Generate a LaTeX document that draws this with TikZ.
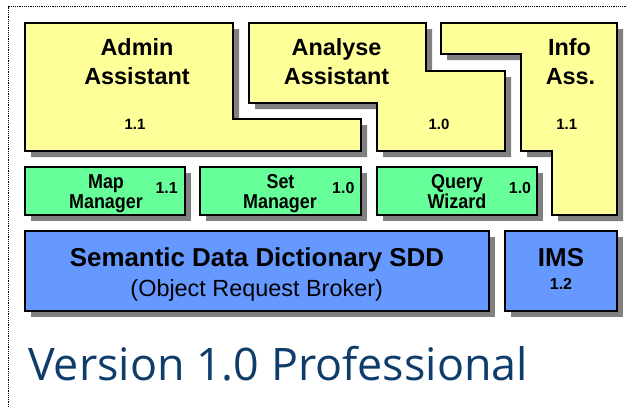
\documentclass[tikz,border=0pt]{standalone}
\usepackage{fontspec}
\usepackage{graphicx}
\setmainfont{Liberation Sans}
\newfontfamily\verfont{Open Sans}
\definecolor{ylw}{HTML}{FFFF99}
\definecolor{grn}{HTML}{66FF99}
\definecolor{blu}{HTML}{6699FF}
\definecolor{shd}{HTML}{808080}
\definecolor{vblue}{HTML}{0F3D6B}
\newcommand{\tallt}[1]{\scalebox{1}[1.12]{#1}}
\tikzset{
  shadowfill/.style={fill=shd, draw=none},
  ybox/.style={fill=ylw, draw=black, line width=1.3bp},
  gbox/.style={fill=grn, draw=black, line width=1.3bp},
  bbox/.style={fill=blu, draw=black, line width=1.3bp},
  big/.style={inner sep=0, anchor=base, font=\fontsize{23.5}{28}\selectfont\bfseries},
  mid/.style={inner sep=0, anchor=base, font=\fontsize{18}{20}\selectfont\bfseries},
  num/.style={inner sep=0, anchor=base, font=\fontsize{15}{18}\selectfont\bfseries},
  gnum/.style={inner sep=0, anchor=base, font=\fontsize{16}{18}\selectfont\bfseries},
  sdd/.style={inner sep=0, anchor=base, font=\fontsize{26}{30}\selectfont\bfseries},
  orb/.style={inner sep=0, anchor=base, font=\fontsize{23.5}{28}\selectfont},
  frame/.style={line width=1.2bp, dash pattern=on 1.2bp off 1bp, black},
}
\begin{document}
\begin{tikzpicture}[x=1bp, y=-1bp]
\useasboundingbox (0,0) rectangle (626,407);
\fill[white] (0,0) rectangle (626,407);
% dotted frame
\draw[frame] (8.5,407) -- (8.5,6.5) -- (626,6.5);
% shadows
\begin{scope}[shift={(6,6)}]
\fill[shadowfill] (25,23) -- (233,23) -- (233,119) -- (361,119) -- (361,151) -- (25,151) -- cycle;
\fill[shadowfill] (249,23) -- (426,23) -- (426,71) -- (505,71) -- (505,151) -- (377,151) -- (377,103) -- (249,103) -- cycle;
\fill[shadowfill] (441,23) -- (617,23) -- (617,215) -- (552,215) -- (552,151) -- (521,151) -- (521,54) -- (441,54) -- cycle;
\fill[shadowfill] (25,167) rectangle (185,215);
\fill[shadowfill] (200,167) rectangle (361,215);
\fill[shadowfill] (377,167) rectangle (537,215);
\fill[shadowfill] (25,231) rectangle (489,311);
\fill[shadowfill] (505,231) rectangle (617,311);
\end{scope}
% yellow shapes
\draw[ybox] (25,23) -- (233,23) -- (233,119) -- (361,119) -- (361,151) -- (25,151) -- cycle;
\draw[ybox] (249,23) -- (426,23) -- (426,71) -- (505,71) -- (505,151) -- (377,151) -- (377,103) -- (249,103) -- cycle;
\draw[ybox] (441,23) -- (617,23) -- (617,215) -- (552,215) -- (552,151) -- (521,151) -- (521,54) -- (441,54) -- cycle;
% green boxes
\draw[gbox] (25,167) rectangle (185,215);
\draw[gbox] (200,167) rectangle (361,215);
\draw[gbox] (377,167) rectangle (537,215);
% blue boxes
\draw[bbox] (25,231) rectangle (489,311);
\draw[bbox] (505,231) rectangle (617,311);
% texts
\node[big] (admin1) at (137,55.7) {Admin};
\node[big] (admin2) at (137,84) {Assistant};
\node[num] (adminv) at (135,129) {1.1};
\node[big] (anal1) at (336.6,55.7) {Analyse};
\node[big] (anal2) at (336.6,84) {Assistant};
\node[num] (analv) at (439,129) {1.0};
\node[big] (info1) at (569.5,55.7) {Info};
\node[big] (info2) at (570.5,84) {Ass.};
\node[num] (infov) at (566.7,129) {1.1};
\node[mid] (map1) at (106,188.5) {\tallt{Map}};
\node[mid] (map2) at (106,208.5) {\tallt{Manager}};
\node[gnum] (mapv) at (166.7,193.5) {1.1};
\node[mid] (set1) at (280.5,188.5) {\tallt{Set}};
\node[mid] (set2) at (280,208.5) {\tallt{Manager}};
\node[gnum] (setv) at (343.3,193.5) {1.0};
\node[mid] (qry1) at (457,188.5) {\tallt{Query}};
\node[mid] (qry2) at (457,208.5) {\tallt{Wizard}};
\node[gnum] (qryv) at (520,193.5) {1.0};
\node[sdd] (sdd1) at (257,266.7) {Semantic Data Dictionary SDD};
\node[orb] (sdd2) at (256.7,296.7) {(Object Request Broker)};
\node[sdd] (ims1) at (561,266.7) {IMS};
\node[gnum] (imsv) at (561,289.3) {1.2};
\node[inner sep=0, anchor=base, text=vblue, font=\verfont\fontsize{45}{50}\selectfont] (ver) at (278,380) {Version 1.0 Professional};
\end{tikzpicture}
\end{document}
